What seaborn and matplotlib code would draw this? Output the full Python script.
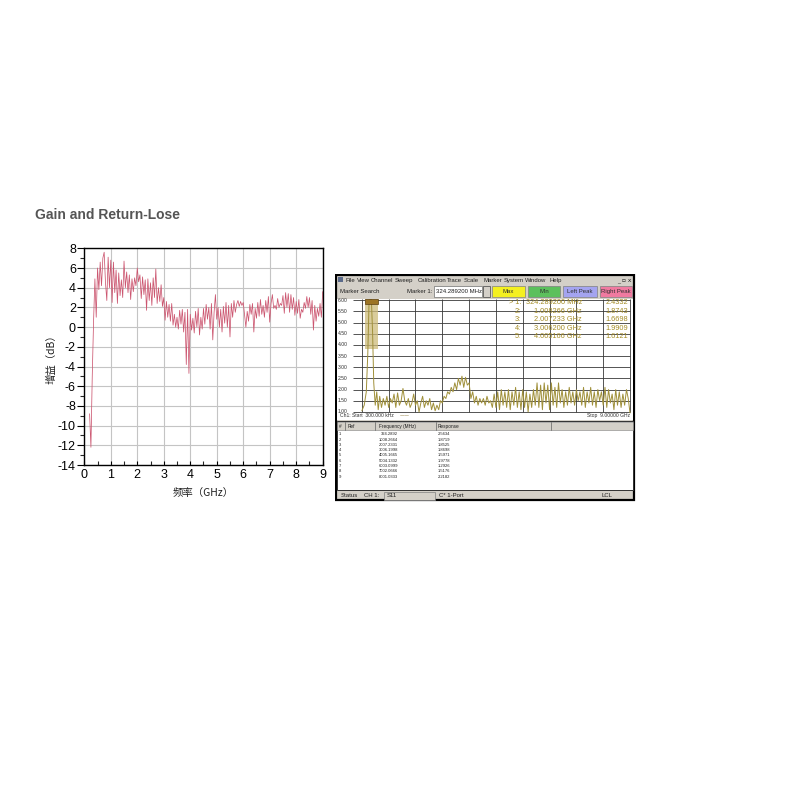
import numpy as np
import matplotlib
matplotlib.use("Agg")
import matplotlib.pyplot as plt
from matplotlib.patches import Rectangle
import seaborn as sns

# ---- left chart: measured gain ----
freq_ghz = [
    0.20, 0.25, 0.30, 0.35, 0.40, 0.45, 0.50, 0.55, 0.60, 0.65, 0.70, 0.75, 0.80, 0.85, 0.90, 0.95,
    1.00, 1.05, 1.10, 1.15, 1.20, 1.25, 1.30, 1.35, 1.40, 1.45, 1.50, 1.55, 1.60, 1.65, 1.70, 1.75,
    1.80, 1.85, 1.90, 1.95, 2.00, 2.05, 2.10, 2.15, 2.20, 2.25, 2.30, 2.35, 2.40, 2.45, 2.50, 2.55,
    2.60, 2.65, 2.70, 2.75, 2.80, 2.85, 2.90, 2.95, 3.00, 3.05, 3.10, 3.15, 3.20, 3.25, 3.30, 3.35,
    3.40, 3.45, 3.50, 3.55, 3.60, 3.65, 3.70, 3.75, 3.80, 3.85, 3.90, 3.95, 4.00, 4.05, 4.10, 4.15,
    4.20, 4.25, 4.30, 4.35, 4.40, 4.45, 4.50, 4.55, 4.60, 4.65, 4.70, 4.75, 4.80, 4.85, 4.90, 4.95,
    5.00, 5.05, 5.10, 5.15, 5.20, 5.25, 5.30, 5.35, 5.40, 5.45, 5.50, 5.55, 5.60, 5.65, 5.70, 5.75,
    5.80, 5.85, 5.90, 5.95, 6.00, 6.05, 6.10, 6.15, 6.20, 6.25, 6.30, 6.35, 6.40, 6.45, 6.50, 6.55,
    6.60, 6.65, 6.70, 6.75, 6.80, 6.85, 6.90, 6.95, 7.00, 7.05, 7.10, 7.15, 7.20, 7.25, 7.30, 7.35,
    7.40, 7.45, 7.50, 7.55, 7.60, 7.65, 7.70, 7.75, 7.80, 7.85, 7.90, 7.95, 8.00, 8.05, 8.10, 8.15,
    8.20, 8.25, 8.30, 8.35, 8.40, 8.45, 8.50, 8.55, 8.60, 8.65, 8.70, 8.75, 8.80, 8.85, 8.90, 8.95,
    9.00,
]
gain_db = [
    -8.8, -12.2, -5.0, 0.6, 4.9, 1.0, 6.0, 3.8, 6.6, 4.2, 7.0, 7.6, 4.5, 2.7, 7.1, 4.0,
    6.8, 2.5, 6.6, 3.5, 5.8, 2.4, 5.5, 3.2, 4.8, 3.0, 6.7, 4.0, 5.6, 3.5, 5.3, 2.8,
    4.9, 3.6, 5.0, 4.2, 6.0, 4.6, 5.3, 2.9, 5.1, 3.3, 4.8, 1.7, 4.9, 2.7, 4.5, 2.2,
    5.0, 3.0, 5.9, 2.4, 4.0, 2.6, 4.3, 2.1, 3.0, 0.7, 2.6, 1.0, 2.3, 0.6, 2.4, 0.2,
    1.3, 0.0, 1.0, -0.2, 1.7, 0.3, 1.8, -0.5, 1.5, -3.8, 1.8, -4.7, 1.3, -0.3, 0.9, -0.6,
    1.6, 0.0, 1.9, -0.8, 1.0, -0.2, 1.9, 0.3, 2.3, 0.8, 2.0, -0.2, 2.4, -1.3, 1.5, 3.3,
    0.8, 2.0, 0.0, 1.8, -0.5, 2.1, 0.4, 2.5, 0.0, 2.2, -1.0, 2.4, 1.0, 2.7, 1.5, 2.3,
    2.7, 2.1, 2.6, 2.2, 2.5, 1.2, 0.0, 1.6, 0.6, 2.3, 1.3, 2.4, -0.5, 1.9, 0.9, 2.5,
    1.1, 2.8, 1.3, 2.2, 1.0, 2.7, 1.5, 3.1, 0.5, 2.4, 3.3, 1.9, 2.2, 1.8, 2.9, 2.0,
    2.4, 2.2, 3.2, 1.4, 3.5, 2.0, 3.4, 1.5, 3.3, 1.8, 3.0, 1.2, 2.6, 1.4, 2.8, 0.9,
    1.8, 1.5, 2.5, 1.9, 3.1, 2.0, 3.0, 1.3, 2.7, -0.3, 2.2, 0.6, 1.9, 1.1, 2.4, 1.0,
    3.6,
]

# ---- right panel: network analyzer S11 trace ----
vna_freq_ghz = [
    0.00, 0.08, 0.15, 0.20, 0.24, 0.28, 0.32, 0.36, 0.40, 0.45, 0.50, 0.55, 0.60, 0.66, 0.72, 0.78,
    0.84, 0.90, 0.96, 1.02, 1.08, 1.14, 1.20, 1.26, 1.32, 1.38, 1.44, 1.50, 1.56, 1.62, 1.68, 1.74,
    1.80, 1.86, 1.92, 1.98, 2.04, 2.10, 2.16, 2.22, 2.28, 2.34, 2.40, 2.46, 2.52, 2.58, 2.64, 2.70,
    2.76, 2.82, 2.88, 2.94, 3.00, 3.06, 3.12, 3.18, 3.24, 3.30, 3.36, 3.42, 3.48, 3.54, 3.60, 3.66,
    3.72, 3.78, 3.84, 3.90, 3.96, 4.02, 4.08, 4.14, 4.20, 4.26, 4.32, 4.38, 4.44, 4.50, 4.56, 4.62,
    4.68, 4.74, 4.80, 4.86, 4.92, 4.98, 5.04, 5.10, 5.16, 5.22, 5.28, 5.34, 5.40, 5.46, 5.52, 5.58,
    5.64, 5.70, 5.76, 5.82, 5.88, 5.94, 6.00, 6.06, 6.12, 6.18, 6.24, 6.30, 6.36, 6.42, 6.48, 6.54,
    6.60, 6.66, 6.72, 6.78, 6.84, 6.90, 6.96, 7.02, 7.08, 7.14, 7.20, 7.26, 7.32, 7.38, 7.44, 7.50,
    7.56, 7.62, 7.68, 7.74, 7.80, 7.86, 7.92, 7.98, 8.04, 8.10, 8.16, 8.22, 8.28, 8.34, 8.40, 8.46,
    8.52, 8.58, 8.64, 8.70, 8.76, 8.82, 8.88, 8.94, 9.00,
]
vna_swr = [
    1.05, 1.30, 1.90, 3.60, 5.80, 6.05, 6.05, 4.60, 2.30, 1.30, 1.90, 1.10, 1.70, 1.20, 1.60, 1.30,
    1.70, 1.20, 1.60, 1.40, 1.80, 1.20, 1.85, 1.30, 1.50, 2.05, 1.50, 1.30, 1.60, 1.20, 1.40, 1.80,
    1.30, 1.50, 1.00, 1.40, 1.70, 1.20, 1.50, 1.30, 1.60, 1.10, 1.40, 1.05, 1.30, 1.10, 1.50, 1.40,
    1.70, 1.60, 1.90, 1.80, 2.10, 1.90, 2.30, 2.00, 2.50, 2.20, 2.60, 2.10, 2.55, 2.20, 2.30, 1.60,
    1.90, 1.40, 1.70, 1.30, 1.60, 1.40, 1.60, 1.30, 1.70, 1.40, 1.50, 1.20, 1.80, 1.20, 1.90, 1.10,
    2.00, 1.30, 1.90, 1.20, 2.00, 1.10, 1.90, 1.30, 2.10, 1.20, 1.90, 1.10, 2.00, 1.20, 1.90, 1.00,
    1.80, 1.20, 2.00, 1.30, 2.30, 1.20, 2.20, 1.10, 2.30, 1.40, 2.20, 1.10, 2.30, 1.30, 2.10, 1.20,
    2.30, 1.40, 2.00, 1.20, 1.90, 1.30, 2.10, 1.40, 1.90, 1.30, 2.00, 1.50, 1.90, 1.30, 2.10, 1.20,
    1.90, 1.40, 2.10, 1.30, 1.90, 1.20, 2.00, 1.50, 1.90, 1.30, 2.10, 1.20, 2.00, 1.40, 1.80, 1.10,
    2.00, 1.30, 1.90, 1.20, 1.80, 1.30, 2.00, 1.60, 0.95,
]
swr_levels = [6.0, 5.5, 5.0, 4.5, 4.0, 3.5, 3.0, 2.5, 2.0, 1.5, 1.0]

marker_ids = ["> 1:", "2:", "3:", "4:", "5:"]
marker_freqs = ["324.289200 MHz", "1.008266 GHz", "2.007233 GHz", "3.006200 GHz", "4.005166 GHz"]
marker_vals = ["2.4332", "1.8743", "1.6698", "1.9909", "1.6121"]
marker1_ghz = 0.3243

table_freqs = ["324.2892", "1008.2664", "2007.2331", "3006.1998", "4005.1665",
               "5004.1332", "6003.0999", "7002.0666", "8001.0333"]
table_resp = ["2.5634", "1.8719", "1.8525", "1.8698", "1.5971",
              "1.9778", "1.2926", "1.5176", "2.2182"]

menu_items = ["File", "View", "Channel", "Sweep", "Calibration", "Trace", "Scale",
              "Marker", "System", "Window", "Help"]
button_labels = ["Max", "Min", "Left Peak", "Right Peak"]

sns.set_theme(style="white")
plt.rcParams["font.family"] = ["Liberation Sans", "Noto Sans CJK SC", "DejaVu Sans"]
plt.rcParams["axes.unicode_minus"] = False

W, H = 800, 800
fig = plt.figure(figsize=(8, 8), dpi=100)
fig.patch.set_facecolor("white")


def box(l, t, r, b):
    return [l / W, 1 - b / H, (r - l) / W, (b - t) / H]


fig.text(35 / W, 1 - 215 / H, "Gain and Return-Lose", fontsize=10, fontweight="bold",
         color="#555555", ha="left", va="center")

# ---- left: gain chart ----
ax = fig.add_axes(box(84.3, 248.3, 322.7, 465))
sns.lineplot(x=freq_ghz, y=gain_db, ax=ax, color="#cc5670", linewidth=0.55,
             sort=False, estimator=None)
ax.set_xlim(0, 9)
ax.set_ylim(-14, 8)
ax.set_xticks(range(0, 10))
ax.set_yticks(range(-14, 9, 2))
ax.set_xticks(np.arange(0.5, 9, 1), minor=True)
ax.set_yticks(range(-13, 8, 2), minor=True)
ax.grid(True, which="major", color="#c4c4c4", linewidth=0.8)
ax.set_axisbelow(True)
ax.tick_params(axis="y", which="major", direction="out", left=True, length=5, width=0.8,
               labelsize=9, pad=1, colors="black")
ax.tick_params(axis="y", which="minor", direction="out", left=True, length=3, width=0.8)
ax.tick_params(axis="x", which="major", direction="in", bottom=True, length=3, width=0.8,
               labelsize=9, pad=3, colors="black")
ax.tick_params(axis="x", which="minor", direction="in", bottom=True, length=3, width=0.8)
for s in ax.spines.values():
    s.set_color("black")
    s.set_linewidth(1.0)
ax.set_xlabel("频率（GHz）", fontsize=7.5, labelpad=5, color="#202020",
              family=["Noto Sans CJK SC", "DejaVu Sans"])
ax.set_ylabel("增益（dB）", fontsize=7.5, labelpad=1, color="#202020",
              family=["Noto Sans CJK SC", "DejaVu Sans"])

# ---- right: analyzer window (pixel coordinates) ----
sax = fig.add_axes(box(335, 274, 636, 502))
sax.set_xlim(335, 636)
sax.set_ylim(502, 274)
sax.axis("off")
gray = "#d4d0c8"
fs_ui = 4.3
sax.add_patch(Rectangle((336, 275), 298, 225, fc=gray, ec="black", lw=1.6))

# menu bar
sax.add_patch(Rectangle((338, 277.5), 5, 5, fc="#5a6a8a", ec="none"))
menu_x = [345, 357, 371, 395, 418, 447, 464, 483, 504, 525, 549]
for mx, item in zip(menu_x, menu_items):
    sax.text(mx, 280.5, item, fontsize=fs_ui, ha="left", va="center", color="#202020")
sax.text(631, 280.5, "_ ▫ x", fontsize=fs_ui, ha="right", va="center", color="#202020",
         family=["DejaVu Sans"])

# toolbar
sax.text(340, 291.5, "Marker Search", fontsize=fs_ui, ha="left", va="center", color="#202020")
sax.text(432, 291.5, "Marker 1:", fontsize=fs_ui, ha="right", va="center", color="#202020")
sax.add_patch(Rectangle((434, 286), 48, 11, fc="white", ec="#707070", lw=0.5))
sax.text(436, 291.5, marker_freqs[0], fontsize=fs_ui, ha="left", va="center", color="#202020")
sax.add_patch(Rectangle((483, 286), 7, 11, fc=gray, ec="#404040", lw=0.5))
btn_x = [(492, 525), (528, 560), (563, 597), (600, 632)]
btn_c = ["#f4f020", "#5cc05c", "#a4a4f0", "#f07aa0"]
for (l, r), c, lab in zip(btn_x, btn_c, button_labels):
    sax.add_patch(Rectangle((l, 286), r - l, 11, fc=c, ec="#808080", lw=0.5))
    sax.text((l + r) / 2, 291.5, lab, fontsize=fs_ui, ha="center", va="center", color="#303030")

# marker table
sax.add_patch(Rectangle((337, 421.5), 296, 69, fc="white", ec="#303030", lw=0.7))
sax.add_patch(Rectangle((337, 422), 296, 8, fc=gray, ec="#808080", lw=0.4))
for sx in [345, 375, 436, 551]:
    sax.plot([sx, sx], [422, 430], color="#606060", lw=0.5)
for hx, htxt in zip([338.5, 348, 379, 438], ["#", "Ref", "Frequency (MHz)", "Response"]):
    sax.text(hx, 426.2, htxt, fontsize=3.4, ha="left", va="center", color="#202020")
row_y = [434.3, 439.6, 444.9, 450.2, 455.5, 460.8, 466.1, 471.4, 476.7]
for i, (ry, tf, tr) in enumerate(zip(row_y, table_freqs, table_resp)):
    sax.text(338.5, ry, str(i + 1), fontsize=3.0, ha="left", va="center", color="#202020")
    sax.text(398, ry, tf, fontsize=3.0, ha="right", va="center", color="#202020")
    sax.text(438, ry, tr, fontsize=3.0, ha="left", va="center", color="#202020")

# status bar
sax.text(341, 496, "Status", fontsize=fs_ui, ha="left", va="center", color="#202020")
sax.text(364, 496, "CH 1:", fontsize=fs_ui, ha="left", va="center", color="#202020")
sax.add_patch(Rectangle((384, 492), 51, 8, fc=gray, ec="#808080", lw=0.5))
sax.text(387, 496, "S11", fontsize=fs_ui, ha="left", va="center", color="#202020")
sax.text(439, 496, "C* 1-Port", fontsize=fs_ui, ha="left", va="center", color="#202020")
sax.text(602, 496, "LCL", fontsize=fs_ui, ha="left", va="center", color="#202020")

# trace plot
tax = fig.add_axes(box(336.5, 298.5, 633, 419.5))
tax.set_facecolor("white")
tax.set_xlim(-0.85, 9.1)
tax.set_ylim(0.66, 6.08)
tax.axis("off")
tax.add_patch(Rectangle((-0.86, 0.66), 9.96, 5.42, fc="white", ec="none", zorder=0))
tax.hlines(swr_levels, -0.3, 9.0, color="#383838", lw=0.6, zorder=1)
tax.vlines(np.arange(0, 9.01, 0.9), 1.0, 6.08, color="#383838", lw=0.6, zorder=1)
for lv in swr_levels:
    tax.text(-0.82, lv, f"{lv:.2f}", fontsize=3.6, ha="left", va="center", color="#303030")
# marker 1 highlight band
tax.add_patch(Rectangle((marker1_ghz - 0.22, 3.8), 0.44, 2.25, fc="#cdbb7a", ec="none",
                        alpha=0.75, zorder=2))
sns.lineplot(x=vna_freq_ghz, y=vna_swr, ax=tax, color="#a0903a", linewidth=0.7,
             sort=False, estimator=None, zorder=3)
tax.add_patch(Rectangle((marker1_ghz - 0.22, 5.85), 0.44, 0.22, fc="#9c7424", ec="#5a3e10",
                        lw=0.5, zorder=4))
tax.set_xlabel("")
tax.set_ylabel("")

mk_color = "#a48c26"
mk_rows = [303, 311.5, 320, 328.5, 337]
for ry, mid, mf, mv in zip(mk_rows, marker_ids, marker_freqs, marker_vals):
    tax.text(521, ry, mid, fontsize=5.3, ha="right", va="center", color=mk_color,
             transform=sax.transData, zorder=5)
    tax.text(582, ry, mf, fontsize=5.3, ha="right", va="center", color=mk_color,
             transform=sax.transData, zorder=5)
    tax.text(628, ry, mv, fontsize=5.3, ha="right", va="center", color=mk_color,
             transform=sax.transData, zorder=5)
tax.text(340, 416, "Ch1: Start  300.000 kHz", fontsize=3.6, ha="left", va="center",
         color="#303030", transform=sax.transData)
tax.text(400, 416, "——", fontsize=3.6, ha="left", va="center", color="#806a20",
         transform=sax.transData, family=["DejaVu Sans"])
tax.text(630, 416, "Stop  9.00000 GHz", fontsize=3.6, ha="right", va="center",
         color="#303030", transform=sax.transData)

fig.savefig("out.png", dpi=100, facecolor="white")
